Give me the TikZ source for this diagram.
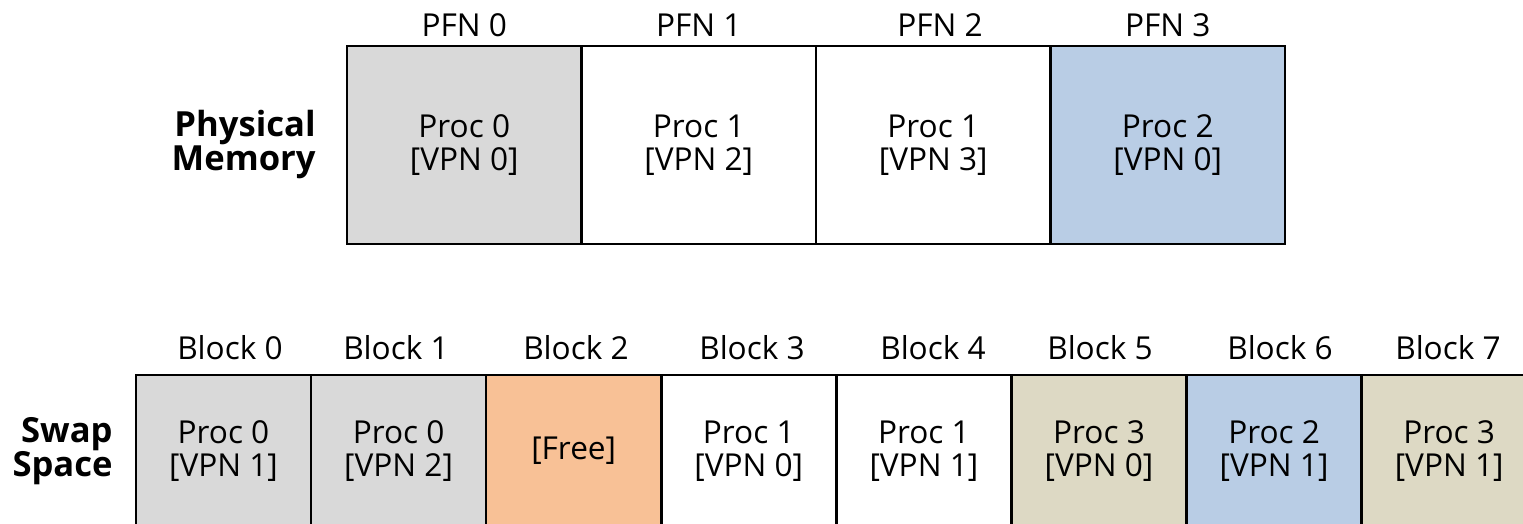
\documentclass[tikz,border=0pt]{standalone}
\usepackage{fontspec}
\setmainfont{Open Sans}
\definecolor{cgray}{HTML}{D9D9D9}
\definecolor{corange}{HTML}{F8C196}
\definecolor{cblue}{HTML}{B9CDE5}
\definecolor{ctan}{HTML}{DDD9C4}
\begin{document}
\begin{tikzpicture}[x=0.5pt,y=-0.5pt,
  txt/.style={font=\fontsize{15.8}{16.6}\selectfont,align=center,inner sep=0pt},
  pcell/.style={txt,draw=black,line width=1.3pt,minimum width=117.25pt,minimum height=99pt},
  scell/.style={txt,draw=black,line width=1.3pt,minimum width=87.55pt,minimum height=76pt},
  toplabel/.style={txt},
  rowlabel/.style={font=\bfseries\fontsize{17.3}{17}\selectfont,align=right,inner sep=0pt,anchor=east}]
\clip (0,0) rectangle (1523,524);
\useasboundingbox (0,0) rectangle (1523,524);
% physical memory
\node[pcell,fill=cgray] (p0) at (464.25,145) {Proc 0\\{[VPN 0]}};
\node[pcell,fill=white] (p1) at (698.75,145) {Proc 1\\{[VPN 2]}};
\node[pcell,fill=white] (p2) at (933.25,145) {Proc 1\\{[VPN 3]}};
\node[pcell,fill=cblue] (p3) at (1167.75,145) {Proc 2\\{[VPN 0]}};
\node[toplabel] (l0) at (464.25,25) {PFN 0};
\node[toplabel] (l1) at (698.75,25) {PFN 1};
\node[toplabel] (l2) at (940,25) {PFN 2};
\node[toplabel] (l3) at (1167.75,25) {PFN 3};
\node[rowlabel] (pm) at (316,145) {Physical\\Memory};
% swap space
\node[scell,fill=cgray] (s0) at (223.5,451) {Proc 0\\{[VPN 1]}};
\node[scell,fill=cgray] (s1) at (398.6,451) {Proc 0\\{[VPN 2]}};
\node[scell,fill=corange] (s2) at (573.7,451) {[Free]};
\node[scell,fill=white] (s3) at (748.8,451) {Proc 1\\{[VPN 0]}};
\node[scell,fill=white] (s4) at (923.9,451) {Proc 1\\{[VPN 1]}};
\node[scell,fill=ctan] (s5) at (1099,451) {Proc 3\\{[VPN 0]}};
\node[scell,fill=cblue] (s6) at (1274.1,451) {Proc 2\\{[VPN 1]}};
\node[scell,fill=ctan] (s7) at (1449.2,451) {Proc 3\\{[VPN 1]}};
\node[toplabel] (b0) at (230,348) {Block 0};
\node[toplabel] (b1) at (396,348) {Block 1};
\node[toplabel] (b2) at (576,348) {Block 2};
\node[toplabel] (b3) at (752,348) {Block 3};
\node[toplabel] (b4) at (933,348) {Block 4};
\node[toplabel] (b5) at (1100,348) {Block 5};
\node[toplabel] (b6) at (1280,348) {Block 6};
\node[toplabel] (b7) at (1448,348) {Block 7};
\node[rowlabel] (ss) at (113,451) {Swap\\Space};
\end{tikzpicture}
\end{document}
